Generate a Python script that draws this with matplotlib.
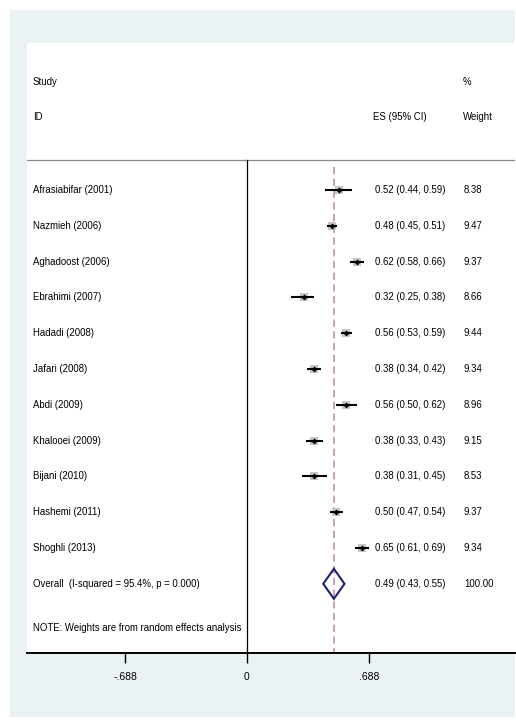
import matplotlib
matplotlib.use("Agg")
import matplotlib.pyplot as plt
from matplotlib.patches import Rectangle, Polygon
from matplotlib.transforms import blended_transform_factory
import numpy as np

plt.rcParams['font.family'] = ['Liberation Sans', 'DejaVu Sans']

studies = ["Afrasiabifar (2001)", "Nazmieh (2006)", "Aghadoost (2006)", "Ebrahimi (2007)",
           "Hadadi (2008)", "Jafari (2008)", "Abdi (2009)", "Khalooei (2009)",
           "Bijani (2010)", "Hashemi (2011)", "Shoghli (2013)"]
es = [0.52, 0.48, 0.62, 0.32, 0.56, 0.38, 0.56, 0.38, 0.38, 0.50, 0.65]
lo = [0.44, 0.45, 0.58, 0.25, 0.53, 0.34, 0.50, 0.33, 0.31, 0.47, 0.61]
hi = [0.59, 0.51, 0.66, 0.38, 0.59, 0.42, 0.62, 0.43, 0.45, 0.54, 0.69]
weights = [8.38, 9.47, 9.37, 8.66, 9.44, 9.34, 8.96, 9.15, 8.53, 9.37, 9.34]
overall_label = "Overall  (I-squared = 95.4%, p = 0.000)"
overall_es, overall_lo, overall_hi = 0.49, 0.43, 0.55
overall_weight = "100.00"
note = "NOTE: Weights are from random effects analysis"
xticks = [-0.688, 0, 0.688]
xticklabels = ["-.688", "0", ".688"]

W, H = 516, 722
fig = plt.figure(figsize=(W / 100, H / 100), dpi=100)
fig.patch.set_facecolor('white')

bg = '#EAF2F3'
fig.patches.append(Rectangle((10 / W, 1 - 717 / H), (515 - 10) / W, (717 - 10) / H,
                             transform=fig.transFigure, facecolor=bg, edgecolor='none', zorder=-10))

# plot region in pixels
L, R, T, B = 27, 515, 43, 653
ax = fig.add_axes([L / W, 1 - B / H, (R - L) / W, (B - T) / H])
ax.set_zorder(5)
ax.set_facecolor('white')

px_per_unit = 122 / 0.688
x0 = 247
ax.set_xlim((L - x0) / px_per_unit, (R - x0) / px_per_unit)

row0, rowh = 190, 35.8
def row(ypx):
    return (ypx - row0) / rowh
ax.set_ylim(row(B), row(T))

fs = 6.9
for s in ['top', 'left', 'right']:
    ax.spines[s].set_visible(False)
ax.spines['bottom'].set_linewidth(1.4)
ax.set_yticks([])
ax.set_xticks(xticks)
ax.set_xticklabels(xticklabels, fontsize=fs + 0.6)
ax.tick_params(axis='x', length=7, width=1.0, pad=7)

n = len(studies)
ys = np.arange(n)

# header line
ax.axhline(row(160), color='#8a8a8a', lw=0.9)
# null line
ax.plot([0, 0], [row(160), row(B)], color='black', lw=0.9)
# overall dashed line
ax.plot([overall_es, overall_es], [row(167), row(B)], color='#c49aa5', lw=1.3,
        dashes=(4, 2.5))

for i in range(n):
    ax.plot([lo[i], hi[i]], [ys[i], ys[i]], color='black', lw=1.5, solid_capstyle='butt', zorder=3)
    ax.plot(es[i], ys[i], marker='s', markersize=5.5 * np.sqrt(weights[i] / 9.3),
            color='#c4c4c4', markeredgewidth=0, zorder=2)
    ax.plot(es[i], ys[i], marker='D', markersize=3.0, color='black', markeredgewidth=0, zorder=4)

yo = n
hh = 15 / rowh
ax.add_patch(Polygon([(overall_lo, yo), (overall_es, yo - hh), (overall_hi, yo), (overall_es, yo + hh)],
                     closed=True, facecolor='none', edgecolor='#1f2470', lw=1.5, zorder=3))

tr = blended_transform_factory(fig.transFigure, ax.transData)
def fx(px):
    return px / W

ax.text(fx(33), row(82), "Study", transform=tr, fontsize=fs, va='center', ha='left')
ax.text(fx(33), row(117), "ID", transform=tr, fontsize=fs, va='center', ha='left')
ax.text(fx(373), row(117), "ES (95% CI)", transform=tr, fontsize=fs, va='center', ha='left')
ax.text(fx(463), row(82), "%", transform=tr, fontsize=fs, va='center', ha='left')
ax.text(fx(463), row(117), "Weight", transform=tr, fontsize=fs, va='center', ha='left')

for i in range(n):
    ax.text(fx(33), ys[i], studies[i], transform=tr, fontsize=fs, va='center', ha='left')
    ax.text(fx(375), ys[i], f"{es[i]:.2f} ({lo[i]:.2f}, {hi[i]:.2f})", transform=tr,
            fontsize=fs, va='center', ha='left')
    ax.text(fx(464), ys[i], f"{weights[i]:.2f}", transform=tr, fontsize=fs, va='center', ha='left')

ax.text(fx(33), yo, overall_label, transform=tr, fontsize=fs, va='center', ha='left')
ax.text(fx(375), yo, f"{overall_es:.2f} ({overall_lo:.2f}, {overall_hi:.2f})", transform=tr,
        fontsize=fs, va='center', ha='left')
ax.text(fx(464), yo, overall_weight, transform=tr, fontsize=fs, va='center', ha='left')
ax.text(fx(33), row(628), note, transform=tr, fontsize=fs, va='center', ha='left')

fig.savefig("out.png", dpi=100, facecolor=fig.get_facecolor())
